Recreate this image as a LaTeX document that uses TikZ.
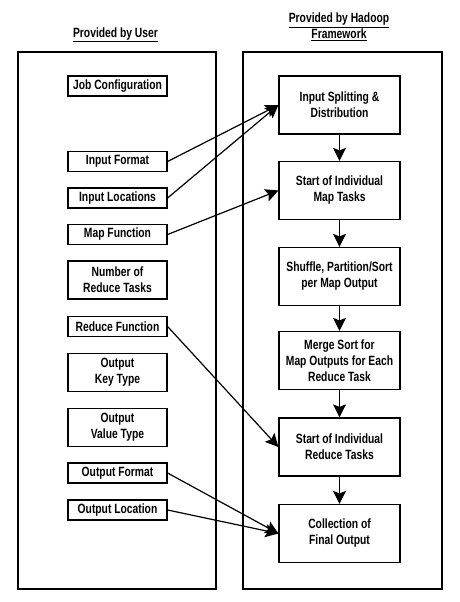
\documentclass[tikz,border=0pt]{standalone}
\usepackage{fontspec}
\setmainfont{Liberation Sans}[FakeStretch=0.77]
\usetikzlibrary{arrows.meta}

\begin{document}
\begin{tikzpicture}[x=1pt, y=-1pt,
  every node/.style={font=\fontsize{13.4}{16}\selectfont\bfseries, align=center, inner sep=0pt},
  frame/.style={draw, line width=1.2pt},
  userbox/.style={draw, line width=1.2pt, minimum width=99pt},
  stagebox/.style={draw, line width=1.2pt, minimum width=121pt, minimum height=58pt},
  arr/.style={-{Stealth[length=13pt, width=13pt, inset=2.5pt]}, line width=1.2pt}]
\useasboundingbox (0,0) rectangle (460,602);
% Column frames and titles
\draw[frame] (18,52) rectangle (216,589);
\draw[frame] (243,52) rectangle (442,589);
\node (usertitle) at (115.5,35) {\underline{Provided by User}};
\node (hadooptitle) at (339,27) {\underline{Provided by Hadoop}\\\underline{Framework}};
% Provided by user
\node[userbox, minimum height=20pt] (jobconf) at (117.5,86) {Job Configuration};
\node[userbox, minimum height=20pt] (infmt) at (117.5,161.5) {Input Format};
\node[userbox, minimum height=20pt] (inloc) at (117.5,198) {Input Locations};
\node[userbox, minimum height=20pt] (mapfn) at (117.5,234.5) {Map Function};
\node[userbox, minimum height=38pt] (numred) at (117.5,280) {Number of\\Reduce Tasks};
\node[userbox, minimum height=20pt] (redfn) at (117.5,326.5) {Reduce Function};
\node[userbox, minimum height=38pt] (keytype) at (117.5,372.5) {Output\\Key Type};
\node[userbox, minimum height=38pt] (valtype) at (117.5,427.5) {Output\\Value Type};
\node[userbox, minimum height=20pt] (outfmt) at (117.5,473) {Output Format};
\node[userbox, minimum height=20pt] (outloc) at (117.5,510) {Output Location};
% Provided by framework
\node[stagebox] (split) at (339.5,105) {Input Splitting \&\\Distribution};
\node[stagebox] (maptasks) at (339.5,190.5) {Start of Individual\\Map Tasks};
\node[stagebox] (shuffle) at (339.5,276.5) {Shuffle, Partition/Sort\\per Map Output};
\node[stagebox] (merge) at (339.5,360.5) {Merge Sort for\\Map Outputs for Each\\Reduce Task};
\node[stagebox] (redtasks) at (339.5,447) {Start of Individual\\Reduce Tasks};
\node[stagebox] (collect) at (339.5,533.5) {Collection of\\Final Output};
% Flow down the framework
\draw[arr] (split) -- (maptasks);
\draw[arr] (maptasks) -- (shuffle);
\draw[arr] (shuffle) -- (merge);
\draw[arr] (merge) -- (redtasks);
\draw[arr] (redtasks) -- (collect);
% User inputs into the framework
\draw[arr] (infmt.east) -- (split.west);
\draw[arr] (inloc.east) -- (split.west);
\draw[arr] (mapfn.east) -- (maptasks.west);
\draw[arr] (redfn.east) -- (redtasks.west);
\draw[arr] (outfmt.east) -- (collect.west);
\draw[arr] (outloc.east) -- (collect.west);
\end{tikzpicture}
\end{document}
